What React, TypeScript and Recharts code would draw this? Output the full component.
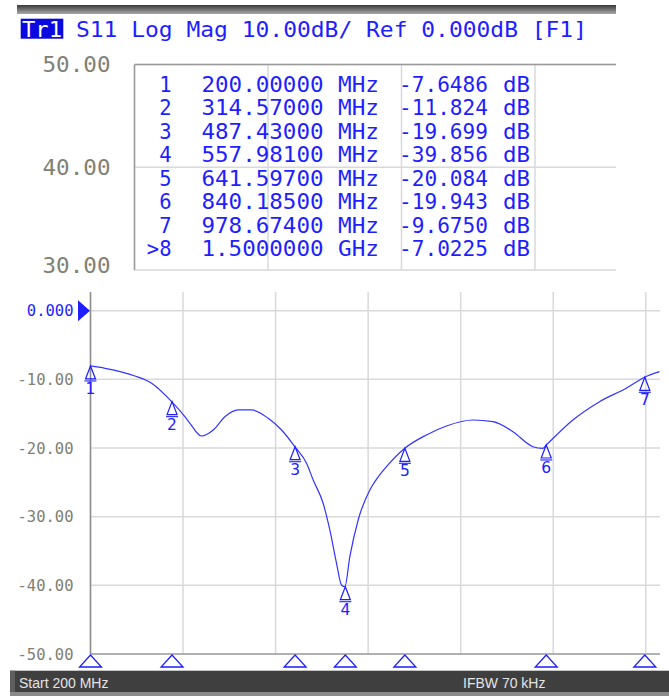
import React from 'react';
import { ComposedChart, Line, Scatter, XAxis, YAxis, CartesianGrid } from 'recharts';

// ---- main trace (S11, dB vs MHz) ----
const traceFreq = [200, 220.4, 262.5, 285.9, 314.0, 332.6, 339.7, 356.1, 372.4, 388.8, 407.5, 426.3, 449.6, 468.4, 487.1, 503.5, 512.8, 526.8, 536.2, 545.6, 552.6, 557.3, 564.3, 576.0, 592.4, 601.7, 615.8, 641.5, 671.9, 700.0, 737.3, 765.4, 793.4, 821.5, 835.5, 840.3, 877.6, 915.1, 952.6, 978.2, 999.3];
const traceDb = [-8.05, -8.39, -9.51, -10.57, -13.25, -15.44, -16.4, -18.25, -17.38, -15.44, -14.46, -14.46, -15.67, -17.38, -19.81, -22.23, -24.66, -28.05, -31.94, -36.79, -39.95, -40.2, -35.83, -30.48, -26.11, -24.56, -22.72, -20.04, -18.10, -16.79, -15.92, -16.17, -17.62, -19.81, -20.04, -19.56, -15.92, -13.25, -11.30, -9.70, -8.88];

// ---- markers on trace ----
const markerIds = ['1', '2', '3', '4', '5', '6', '7'];
const markerFreq = [200, 314.57, 487.43, 557.981, 641.597, 840.185, 978.674];
const markerDb = [-8.05, -13.25, -19.81, -40.2, -20.04, -19.56, -9.7];

// ---- axes ----
const freqTicks = [200, 330, 460, 590, 720, 850, 980];
const dbTicks = [0, -10, -20, -30, -40, -50];
const zoomTicks = [50, 40, 30];
const zoomFreqTicks = [200, 330, 460, 590];
const zoomFreqMax = 668.9;

// ---- marker table ----
const tableIds = ['1', '2', '3', '4', '5', '6', '7', '>8'];
const tableFreq = ['200.00000', '314.57000', '487.43000', '557.98100', '641.59700', '840.18500', '978.67400', '1.5000000'];
const tableUnit = ['MHz', 'MHz', 'MHz', 'MHz', 'MHz', 'MHz', 'MHz', 'GHz'];
const tableVal = ['-7.6486', '-11.824', '-19.699', '-39.856', '-20.084', '-19.943', '-9.6750', '-7.0225'];

const BLUE = '#1e1eff';
const TRACE = '#3434ff';
const GRAY = '#808074';
const MONO = 'DejaVu Sans Mono, monospace';

const applyScale = (sc: any, v: number): number => {
  if (!sc) return NaN;
  if (typeof sc === 'function') return sc(v);
  if (typeof sc.map === 'function') return sc.map(v);
  return NaN;
};
const vGen = (ticks: number[]) => (p: any) => ticks.map((t) => applyScale(p?.xAxis?.scale, t)).filter((n) => Number.isFinite(n));
const hGen = (ticks: number[]) => (p: any) => ticks.map((t) => applyScale(p?.yAxis?.scale, t)).filter((n) => Number.isFinite(n));

const BottomTick = (p: any) => {
  const { x, y, payload } = p;
  const v = payload.value as number;
  const isRef = v === 0;
  const label = isRef ? '0.000' : v.toFixed(2);
  return (
    <g>
      <text x={x - 17} y={y} dy="0.36em" textAnchor="end" fontFamily={MONO} fontSize={15.5} fill={isRef ? BLUE : GRAY}>
        {label}
      </text>
      {isRef && <path d={`M${x - 12.5},${y - 10.5} L${x - 12.5},${y + 10.5} L${x - 0.5},${y} Z`} fill={BLUE} />}
    </g>
  );
};

const TopTick = (p: any) => (
  <text x={p.x - 24} y={p.y} dy="0.36em" textAnchor="end" fontFamily={MONO} fontSize={21} fill={GRAY} textLength={68} lengthAdjust="spacingAndGlyphs">
    {(p.payload.value as number).toFixed(2)}
  </text>
);

const MarkerShape = (p: any) => {
  const { cx, cy, payload } = p;
  return (
    <g>
      <path d={`M${cx},${cy} L${cx - 5},${cy + 13} L${cx + 5},${cy + 13} Z`} fill="none" stroke={BLUE} strokeWidth={1.2} />
      <line x1={cx - 6} x2={cx + 6} y1={cy + 15} y2={cy + 15} stroke={BLUE} strokeWidth={1.1} />
      <text x={cx} y={cy + 28} textAnchor="middle" fill={BLUE} fontSize={15.5} fontFamily="DejaVu Sans, sans-serif">
        {payload.id}
      </text>
    </g>
  );
};

const BaseShape = (p: any) => {
  const { cx, cy } = p;
  return <path d={`M${cx},${cy + 1} L${cx - 11},${cy + 13} L${cx + 11},${cy + 13} Z`} fill="none" stroke={BLUE} strokeWidth={1.3} />;
};

export default function App() {
  const data = traceFreq.map((f, i) => ({ f, v: traceDb[i] }));
  const zoomData = data.filter((d) => d.f <= zoomFreqMax);
  const mk = markerFreq.map((f, i) => ({ f, v: markerDb[i], id: markerIds[i] }));
  const mkBase = markerFreq.map((f) => ({ f, v: -50 }));
  const rowY = (i: number) => 91.7 + i * 23.5;

  return (
    <div style={{ position: 'absolute', left: 0, top: 0, width: 669, height: 696, background: '#fff', overflow: 'hidden' }}>
      {/* zoomed upper panel: same trace on a 30..50 dB window (trace lies below, so only the grid shows) */}
      <div style={{ position: 'absolute', left: 0, top: 0 }}>
        <ComposedChart width={669} height={274} data={zoomData} margin={{ top: 63.5, right: 53, bottom: 3, left: 0 }}>
          <CartesianGrid stroke="#d9d9d9" strokeWidth={1.5} verticalCoordinatesGenerator={vGen(zoomFreqTicks)} horizontalCoordinatesGenerator={hGen(zoomTicks)} />
          <XAxis type="number" dataKey="f" domain={[200, zoomFreqMax]} ticks={zoomFreqTicks} tick={false} tickLine={false} height={1} axisLine={false} />
          <XAxis xAxisId="top" type="number" dataKey="f" orientation="top" domain={[200, zoomFreqMax]} ticks={zoomFreqTicks} tick={false} tickLine={false} height={1} axisLine={{ stroke: '#9a9a9a', strokeWidth: 1.5 }} />
          <YAxis type="number" dataKey="v" domain={[30, 50]} ticks={zoomTicks} allowDataOverflow width={134.5} tickLine={false} tickSize={0} tickMargin={0} tick={TopTick} axisLine={{ stroke: '#9a9a9a', strokeWidth: 1.5 }} />
          <Line dataKey="v" type="monotone" stroke={TRACE} strokeWidth={1.2} dot={false} isAnimationActive={false} />
        </ComposedChart>
      </div>

      {/* header and marker table text */}
      <svg style={{ position: 'absolute', left: 0, top: 0 }} width={669} height={274}>
        <defs>
          <linearGradient id="topbar" x1="0" y1="0" x2="0" y2="1">
            <stop offset="0" stopColor="#3a3a3a" />
            <stop offset="1" stopColor="#a8a8a8" />
          </linearGradient>
        </defs>
        <rect x={17} y={5} width={599} height={9} fill="url(#topbar)" />
        <rect x={20.7} y={18.7} width={42.6} height={20} fill="#0a0ae0" />
        <text x={22} y={36.5} fill="#ffffff" fontFamily={MONO} fontSize={22} textLength={40} lengthAdjust="spacingAndGlyphs">Tr1</text>
        <text x={76} y={36.5} fill={BLUE} fontFamily={MONO} fontSize={22} textLength={511} lengthAdjust="spacingAndGlyphs">S11 Log Mag 10.00dB/ Ref 0.000dB [F1]</text>
        {tableIds.map((id, i) => (
          <g key={id} fill={BLUE} fontFamily={MONO} fontSize={20.5}>
            <text x={171.5} y={rowY(i)} textAnchor="end">{id}</text>
            <text x={201.5} y={rowY(i)} textLength={122} lengthAdjust="spacingAndGlyphs">{tableFreq[i]}</text>
            <text x={338} y={rowY(i)} textLength={41} lengthAdjust="spacingAndGlyphs">{tableUnit[i]}</text>
            <text x={399} y={rowY(i)} textLength={89} lengthAdjust="spacingAndGlyphs">{tableVal[i]}</text>
            <text x={503} y={rowY(i)} textLength={27} lengthAdjust="spacingAndGlyphs">dB</text>
          </g>
        ))}
      </svg>

      {/* main trace panel */}
      <div style={{ position: 'absolute', left: 0, top: 280 }}>
        <ComposedChart width={669} height={416} data={data} margin={{ top: 12, right: 9, bottom: 41, left: 0.5 }}>
          <CartesianGrid stroke="#d9d9d9" strokeWidth={1.5} verticalCoordinatesGenerator={vGen(freqTicks)} horizontalCoordinatesGenerator={hGen(dbTicks)} />
          <XAxis type="number" dataKey="f" domain={[200, 1000]} ticks={freqTicks} tick={false} tickLine={false} height={1} axisLine={{ stroke: '#a0a0a0', strokeWidth: 1.5 }} />
          <YAxis type="number" dataKey="v" domain={[-50, 2.72]} ticks={dbTicks} width={90} tickLine={false} tickSize={0} tickMargin={0} tick={BottomTick} axisLine={{ stroke: '#8c8c8c', strokeWidth: 1.5 }} />
          <Line dataKey="v" type="monotone" stroke={TRACE} strokeWidth={1.2} dot={false} isAnimationActive={false} />
          <Scatter data={mk} dataKey="v" shape={MarkerShape} isAnimationActive={false} />
          <Scatter data={mkBase} dataKey="v" shape={BaseShape} isAnimationActive={false} />
        </ComposedChart>
      </div>

      {/* status bar */}
      <svg style={{ position: 'absolute', left: 0, top: 668 }} width={669} height={28}>
        <rect x={10} y={2.7} width={659} height={21.3} fill="#3f3f3f" />
        <rect x={10} y={2.7} width={5} height={21.3} fill="#5e5e5e" />
        <rect x={10} y={24} width={659} height={4} fill="#8a8a8a" />
        <text x={19} y={20.3} fill="#e4e4e4" fontFamily="Liberation Sans, Arial, sans-serif" fontSize={14}>Start 200 MHz</text>
        <text x={463} y={20.3} fill="#e4e4e4" fontFamily="Liberation Sans, Arial, sans-serif" fontSize={14}>IFBW 70 kHz</text>
      </svg>
    </div>
  );
}
